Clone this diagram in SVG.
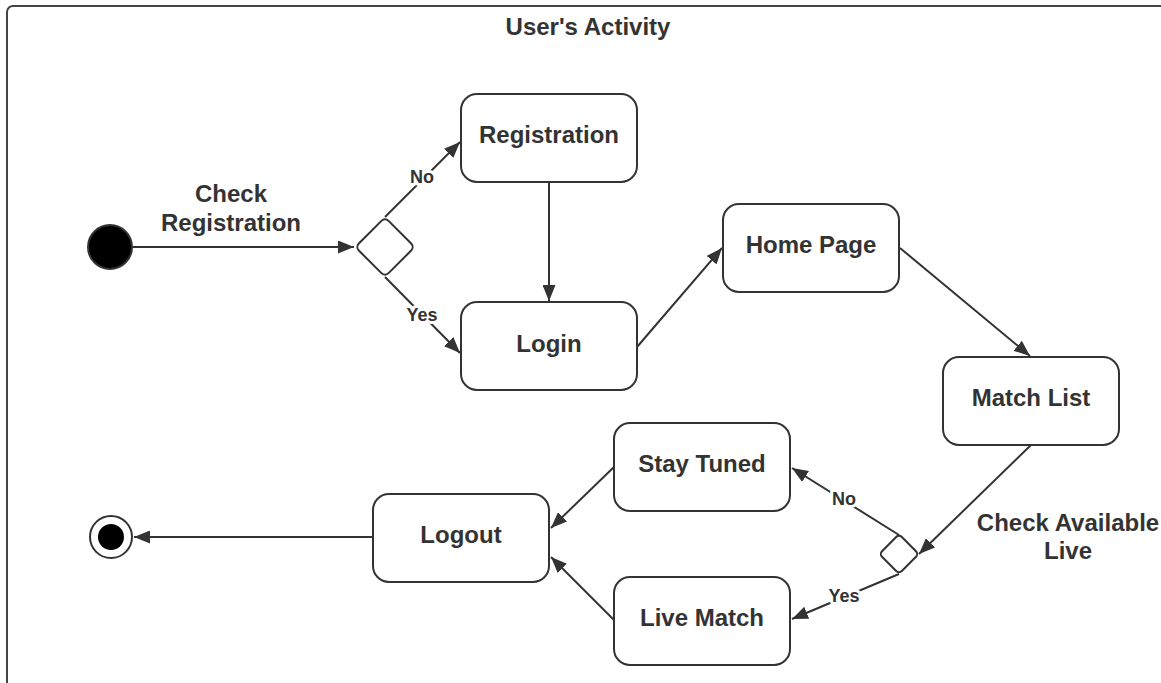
<svg xmlns="http://www.w3.org/2000/svg" width="1161" height="683" viewBox="0 0 1161 683">
<style>
.node{fill:#fff;stroke:#333;stroke-width:2}
.t{font-family:"Liberation Sans",Arial,sans-serif;font-weight:bold;font-size:24px;fill:#333;text-anchor:middle}
.lbl{font-family:"Liberation Sans",Arial,sans-serif;font-weight:bold;font-size:18px;fill:#333;text-anchor:middle;stroke:#fff;stroke-width:6;paint-order:stroke;stroke-linejoin:round}
.e{fill:none;stroke:#333;stroke-width:2;marker-end:url(#arr)}
</style>
<defs>
<marker id="arr" markerUnits="userSpaceOnUse" markerWidth="17" markerHeight="13" refX="16" refY="6.5" orient="auto">
<path d="M0,0 L16,6.5 L0,13 z" fill="#333"/>
</marker>
</defs>
<rect width="1161" height="683" fill="#fff"/>
<g id="frame">
<rect x="7" y="6" width="1220" height="720" rx="6" fill="none" stroke="#444" stroke-width="2"/>
<text class="t" x="588" y="35">User's Activity</text>
</g>
<g id="connectors">
<line class="e" x1="132" y1="247" x2="354" y2="247"/>
<line class="e" x1="385" y1="217" x2="460" y2="142"/>
<line class="e" x1="385" y1="277" x2="460" y2="353"/>
<line class="e" x1="549" y1="182" x2="549" y2="301"/>
<line class="e" x1="637" y1="347" x2="722" y2="248"/>
<line class="e" x1="900" y1="248" x2="1030" y2="356"/>
<line class="e" x1="1031" y1="445" x2="919" y2="554"/>
<line class="e" x1="899" y1="535" x2="792" y2="468"/>
<line class="e" x1="899" y1="574" x2="792" y2="619"/>
<line class="e" x1="614" y1="467" x2="551" y2="528"/>
<line class="e" x1="614" y1="620" x2="551" y2="557"/>
<line class="e" x1="373" y1="537" x2="134" y2="537"/>
<text class="t" x="231" y="202">Check</text>
<text class="t" x="231" y="231">Registration</text>
<text class="lbl" x="422" y="183">No</text>
<text class="lbl" x="422" y="321">Yes</text>
<text class="t" x="1068" y="531">Check Available</text>
<text class="t" x="1068" y="559">Live</text>
<text class="lbl" x="844" y="505">No</text>
<text class="lbl" x="844" y="602">Yes</text>
</g>
<g id="start"><circle cx="110" cy="247" r="22" fill="#000" stroke="#333" stroke-width="2"/></g>
<g id="decision1"><rect class="node" x="-21" y="-21" width="42" height="42" rx="5" transform="translate(385,247) rotate(45)"/></g>
<g id="registration"><rect class="node" x="461" y="94" width="176" height="88" rx="16"/><text class="t" x="549" y="143">Registration</text></g>
<g id="login"><rect class="node" x="461" y="302" width="176" height="88" rx="16"/><text class="t" x="549" y="352">Login</text></g>
<g id="homepage"><rect class="node" x="723" y="204" width="176" height="88" rx="16"/><text class="t" x="811" y="253">Home Page</text></g>
<g id="matchlist"><rect class="node" x="943" y="357" width="176" height="88" rx="16"/><text class="t" x="1031" y="406">Match List</text></g>
<g id="decision2"><rect class="node" x="-14" y="-14" width="28" height="28" rx="4" transform="translate(899,554) rotate(45)"/></g>
<g id="staytuned"><rect class="node" x="614" y="423" width="176" height="88" rx="16"/><text class="t" x="702" y="472">Stay Tuned</text></g>
<g id="livematch"><rect class="node" x="614" y="577" width="176" height="88" rx="16"/><text class="t" x="702" y="626">Live Match</text></g>
<g id="logout"><rect class="node" x="373" y="494" width="176" height="88" rx="16"/><text class="t" x="461" y="543">Logout</text></g>
<g id="end"><circle cx="111" cy="537" r="21" fill="#fff" stroke="#333" stroke-width="2"/><circle cx="111" cy="537" r="13" fill="#000"/></g>
</svg>
